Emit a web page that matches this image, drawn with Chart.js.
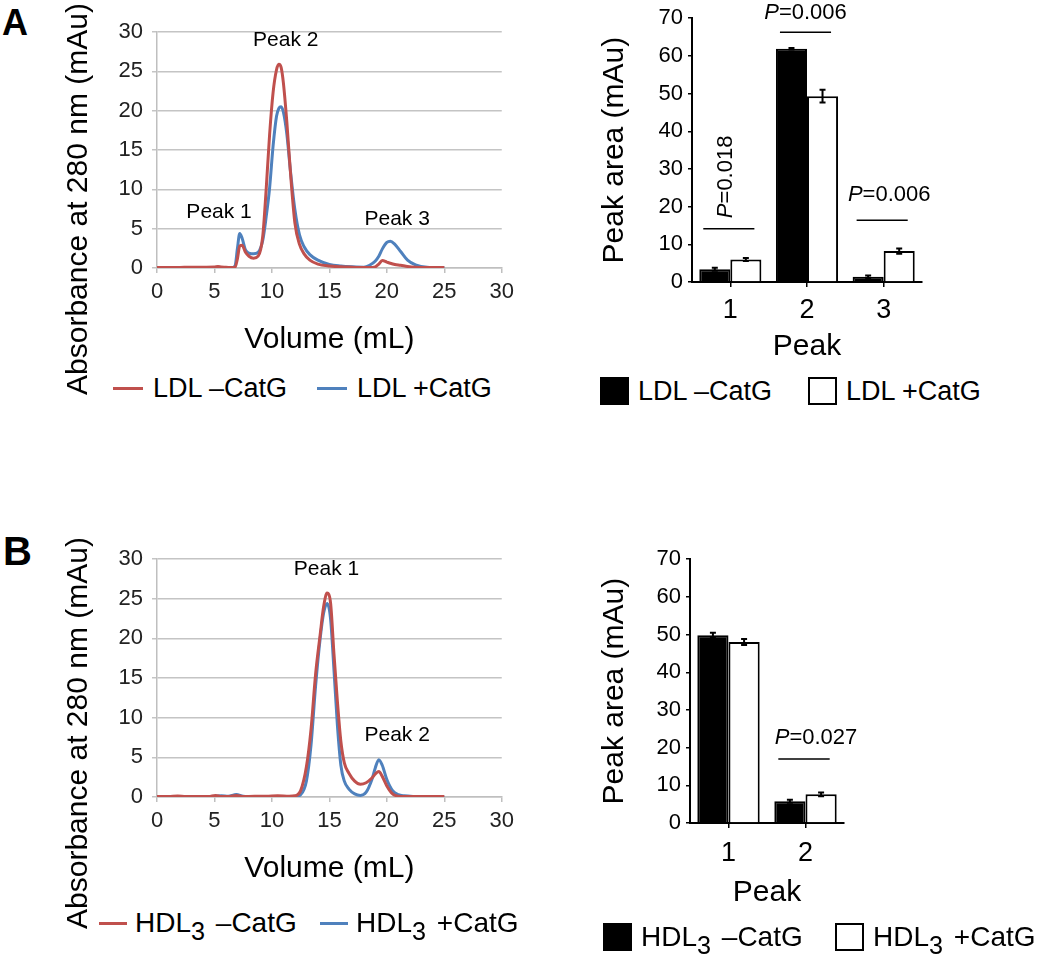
<!DOCTYPE html>
<html lang="en">
<head>
<meta charset="UTF-8">
<title>LDL and HDL3 elution profiles</title>
<script src="https://cdn.jsdelivr.net/npm/chart.js@4"></script>
<style>
  body { margin: 0; width: 1050px; height: 957px; position: relative; background: #fff; overflow: hidden;
         font-family: "Liberation Sans", Arial, sans-serif; color: #000; }
  canvas { position: absolute; }
  .letter { position: absolute; font-weight: bold; line-height: 1; }
  .ytitle { position: absolute; font-size: 30px; line-height: 1; white-space: nowrap;
            transform: translate(-50%, -50%) rotate(-90deg); }
  .legend { position: absolute; height: 30px; display: flex; align-items: center; font-size: 27px; white-space: nowrap; }
  .legend .line { width: 30px; height: 3px; margin-right: 10px; }
  .legend .box { width: 29px; height: 28px; border: 2px solid #000; box-sizing: border-box; margin-right: 9px; }
  .legend .txt { line-height: 30px; }
  .legend.hdl { font-size: 28px; }
  sub { font-size: 0.9em; vertical-align: -0.3em; line-height: 0; margin-right: 3px; }
</style>
</head>
<body>

<div class="letter" style="left:2px; top:5px; font-size:36px;">A</div>
<div class="letter" style="left:3px; top:531px; font-size:40px;">B</div>

<canvas id="lineA" width="520" height="358" style="left:0; top:0;"></canvas>
<canvas id="barA" width="480" height="365" style="left:560px; top:0;"></canvas>
<canvas id="lineB" width="520" height="358" style="left:0; top:529px;"></canvas>
<canvas id="barB" width="480" height="370" style="left:560px; top:541px;"></canvas>

<div class="ytitle" style="left:77px; top:199px;">Absorbance at 280 nm (mAu)</div>
<div class="ytitle" style="left:77px; top:733px;">Absorbance at 280 nm (mAu)</div>

<!-- legends -->
<div class="legend" style="left:113px; top:373px;"><span class="line" style="background:#c0504d"></span><span class="txt">LDL –CatG</span></div>
<div class="legend" style="left:317px; top:373px;"><span class="line" style="background:#4f81bd"></span><span class="txt">LDL +CatG</span></div>
<div class="legend" style="left:600px; top:376px;"><span class="box" style="background:#000"></span><span class="txt">LDL –CatG</span></div>
<div class="legend" style="left:808px; top:376px;"><span class="box" style="background:#fff"></span><span class="txt">LDL +CatG</span></div>

<div class="legend hdl" style="left:99px; top:908px;"><span class="line" style="background:#c0504d; width:28px; margin-right:8px"></span><span class="txt">HDL<sub>3</sub> –CatG</span></div>
<div class="legend hdl" style="left:320px; top:908px;"><span class="line" style="background:#4f81bd; width:28px; margin-right:8px"></span><span class="txt">HDL<sub>3</sub> +CatG</span></div>
<div class="legend hdl" style="left:603px; top:922px;"><span class="box" style="background:#000"></span><span class="txt">HDL<sub>3</sub> –CatG</span></div>
<div class="legend hdl" style="left:835px; top:922px;"><span class="box" style="background:#fff"></span><span class="txt">HDL<sub>3</sub> +CatG</span></div>

<script>
// ---- chromatograms (volume in mL, absorbance in mAu) ----
const ldlVolume = [0, 1, 2, 3, 4, 5, 5.3, 5.6, 6, 6.5, 6.8, 7.0, 7.2, 7.4, 7.7, 8.0, 8.4, 8.8, 9.2, 9.5, 9.8,
                   10.1, 10.4, 10.6, 10.8, 11.0, 11.3, 11.6, 12.0, 12.4, 12.8, 13.3, 14, 15, 16, 17, 18, 18.5,
                   19, 19.3, 19.6, 20.0, 20.3, 20.7, 21.2, 21.8, 22.5, 23.5, 25];
const ldlMinusCatG = [0.05, 0.05, 0.07, 0.1, 0.1, 0.12, 0.2, 0.12, 0.1, 0.05, 0.1, 1.2, 2.8, 2.9, 2.0, 1.5, 1.25, 1.5, 4.0, 10, 17,
                      22.3, 25.2, 25.9, 25.5, 23.5, 18.5, 12.4, 5.7, 3.0, 1.8, 1.0, 0.5, 0.25, 0.15, 0.1, 0.05, 0.05,
                      0.15, 0.5, 0.95, 0.75, 0.6, 0.45, 0.35, 0.2, 0.1, 0.05, 0.05];
const ldlPlusCatG = [0, 0, 0, 0.02, 0.03, 0.05, 0.05, 0.05, 0.03, 0.02, 0.3, 2.5, 4.4, 3.8, 2.3, 1.9, 1.8, 2.0, 3.5, 6.5, 10.2,
                     15.5, 19.3, 20.3, 20.5, 19.8, 17.0, 12.5, 7.4, 4.2, 2.7, 1.7, 1.0, 0.45, 0.25, 0.15, 0.1, 0.35,
                     0.9, 1.5, 2.4, 3.25, 3.4, 3.0, 2.1, 1.0, 0.4, 0.1, 0.05];

const hdlVolume = [0, 1, 1.8, 2.5, 3.5, 4.5, 5.1, 5.6, 6.2, 6.9, 7.5, 8.5, 9.5, 10.5, 11.5, 12.0, 12.5, 13.0, 13.4, 13.8,
                   14.2, 14.5, 14.8, 15.1, 15.4, 15.7, 16.0, 16.3, 16.7, 17.2, 17.7, 18.2, 18.7, 19.0, 19.3, 19.6,
                   20.0, 20.5, 21.0, 21.5, 22.5, 23.5, 25];
const hdlMinusCatG = [0.05, 0.05, 0.12, 0.05, 0.05, 0.05, 0.2, 0.05, 0.05, 0.2, 0.05, 0.1, 0.1, 0.15, 0.1, 0.15, 0.8, 3.8, 8.5, 15.5,
                      20.5, 24.0, 25.7, 24.5, 18.0, 12.0, 7.0, 4.3, 3.0, 2.0, 1.6, 1.8, 2.4, 2.9, 3.2, 2.6,
                      1.4, 0.4, 0.1, 0.05, 0.05, 0.05, 0.05];
const hdlPlusCatG = [0, 0, 0.05, 0, 0, 0.05, 0.1, 0.15, 0.1, 0.3, 0.1, 0.05, 0.05, 0.05, 0.05, 0.05, 0.3, 2.0, 6.5, 14.0,
                     20.0, 23.2, 24.4, 22.5, 16.0, 9.0, 4.0, 2.0, 1.0, 0.4, 0.2, 0.6, 2.2, 3.7, 4.7, 4.0,
                     2.2, 0.8, 0.3, 0.15, 0.05, 0, 0];

// ---- peak areas (mAu), mean and error ----
const ldlPeaks = ['1', '2', '3'];
const ldlAreaMinus = [3.4, 61.9, 1.4];
const ldlErrMinus = [0.4, 0.2, 0.35];
const ldlAreaPlus = [6.0, 49.3, 8.2];
const ldlErrPlus = [0.4, 1.7, 0.7];

const hdlPeaks = ['1', '2'];
const hdlAreaMinus = [49.8, 5.8];
const hdlErrMinus = [0.7, 0.4];
const hdlAreaPlus = [48.0, 7.6];
const hdlErrPlus = [0.8, 0.5];

const RED = '#c0504d';
const BLUE = '#4f81bd';
const FONT = '"Liberation Sans", Arial, sans-serif';

function toPoints(xs, ys) {
    return xs.map((x, i) => ({ x: x, y: ys[i] }));
}

// text labels placed in data coordinates
const peakNotes = {
    id: 'peakNotes',
    afterDatasetsDraw(chart, args, opts) {
        const { ctx, scales: { x, y } } = chart;
        ctx.save();
        ctx.font = '21px ' + FONT;
        ctx.fillStyle = '#000';
        ctx.textAlign = 'center';
        ctx.textBaseline = 'middle';
        opts.notes.forEach(n => ctx.fillText(n.text, x.getPixelForValue(n.x), y.getPixelForValue(n.y)));
        ctx.restore();
    }
};

const errorBars = {
    id: 'errorBars',
    afterDatasetsDraw(chart) {
        const { ctx, scales: { y } } = chart;
        ctx.save();
        ctx.strokeStyle = '#000';
        ctx.lineWidth = 2;
        chart.data.datasets.forEach((ds, i) => {
            chart.getDatasetMeta(i).data.forEach((bar, j) => {
                const top = y.getPixelForValue(ds.data[j] + ds.errors[j]);
                const bot = y.getPixelForValue(ds.data[j] - ds.errors[j]);
                ctx.beginPath();
                ctx.moveTo(bar.x, top); ctx.lineTo(bar.x, bot);
                ctx.moveTo(bar.x - 3, top); ctx.lineTo(bar.x + 3, top);
                ctx.moveTo(bar.x - 3, bot); ctx.lineTo(bar.x + 3, bot);
                ctx.stroke();
            });
        });
        ctx.restore();
    }
};

// significance line + italic P label
const pValues = {
    id: 'pValues',
    afterDatasetsDraw(chart, args, opts) {
        const { ctx, scales: { y } } = chart;
        const m0 = chart.getDatasetMeta(0).data, m1 = chart.getDatasetMeta(1).data;
        ctx.save();
        opts.items.forEach(p => {
            const a = m0[p.index], b = m1[p.index];
            const x0 = a.x - a.width / 2 + 4, x1 = b.x + b.width / 2 - 7;
            const ly = y.getPixelForValue(p.line);
            ctx.strokeStyle = '#000';
            ctx.lineWidth = 1.5;
            ctx.beginPath(); ctx.moveTo(x0, ly); ctx.lineTo(x1, ly); ctx.stroke();

            const cx = (x0 + x1) / 2 + p.dx, cy = y.getPixelForValue(p.label);
            ctx.translate(cx, cy);
            if (p.vertical) ctx.rotate(-Math.PI / 2);
            ctx.textBaseline = 'middle';
            ctx.textAlign = 'left';
            ctx.fillStyle = '#000';
            ctx.font = 'italic 22px ' + FONT;
            const wP = ctx.measureText('P').width;
            ctx.font = '22px ' + FONT;
            const rest = '=' + p.text;
            const wR = ctx.measureText(rest).width;
            const start = -(wP + wR) / 2;
            ctx.fillText(rest, start + wP, 0);
            ctx.font = 'italic 22px ' + FONT;
            ctx.fillText('P', start, 0);
            ctx.setTransform(1, 0, 0, 1, 0, 0);
        });
        ctx.restore();
    }
};

function makeLineChart(id, vols, minus, plus, notes, padTop) {
    return new Chart(document.getElementById(id), {
        type: 'line',
        data: {
            datasets: [
                { label: '-CatG', data: toPoints(vols, minus), borderColor: RED, borderWidth: 3,
                  pointRadius: 0, cubicInterpolationMode: 'monotone' },
                { label: '+CatG', data: toPoints(vols, plus), borderColor: BLUE, borderWidth: 3,
                  pointRadius: 0, cubicInterpolationMode: 'monotone' }
            ]
        },
        options: {
            responsive: false,
            animation: false,
            layout: { padding: { top: padTop, right: 15, left: 0, bottom: 0 } },
            plugins: { legend: { display: false }, tooltip: { enabled: false }, peakNotes: { notes: notes } },
            scales: {
                x: {
                    type: 'linear', min: 0, max: 30,
                    ticks: { stepSize: 5, font: { size: 22, family: FONT }, color: '#222', padding: 6 },
                    grid: { drawOnChartArea: false, color: '#bfbfbf', tickLength: 5, lineWidth: 1.5 },
                    border: { color: '#bfbfbf', width: 1.5 },
                    title: { display: true, text: 'Volume (mL)', font: { size: 30, family: FONT }, color: '#000', padding: 0 },
                    afterFit: s => { s.height = 90; }
                },
                y: {
                    min: 0, max: 30,
                    ticks: { stepSize: 5, font: { size: 22, family: FONT }, color: '#222', padding: 9 },
                    grid: { color: '#c4c4c4', tickLength: 5, lineWidth: 1.5 },
                    border: { color: '#bfbfbf', width: 1.5 },
                    afterFit: s => { s.width = 157; }
                }
            }
        },
        plugins: [peakNotes]
    });
}

function makeBarChart(id, peaks, minus, errMinus, plus, errPlus, pItems, o) {
    return new Chart(document.getElementById(id), {
        type: 'bar',
        data: {
            labels: peaks,
            datasets: [
                { label: '-CatG', data: minus, errors: errMinus, backgroundColor: '#000', borderColor: '#000', borderWidth: 2 },
                { label: '+CatG', data: plus, errors: errPlus, backgroundColor: '#fff', borderColor: '#000', borderWidth: 2 }
            ]
        },
        options: {
            responsive: false,
            animation: false,
            categoryPercentage: 0.81,
            barPercentage: 1.0,
            layout: { padding: { top: 14, right: o.padRight, left: 0, bottom: 0 } },
            plugins: { legend: { display: false }, tooltip: { enabled: false }, pValues: { items: pItems } },
            scales: {
                x: {
                    ticks: { font: { size: 27, family: FONT }, color: '#000', padding: o.catPad },
                    grid: { drawOnChartArea: false, offset: false, color: '#000', tickLength: 5, lineWidth: 1.5 },
                    border: { color: '#000', width: 2 },
                    title: { display: true, text: 'Peak', font: { size: 30, family: FONT }, color: '#000', padding: 0 },
                    afterFit: s => { s.height = o.xHeight; }
                },
                y: {
                    min: 0, max: 70,
                    ticks: { stepSize: 10, font: { size: 22, family: FONT }, color: '#000', padding: 5 },
                    grid: { drawOnChartArea: false, color: '#000', tickLength: 4, lineWidth: 1.5 },
                    border: { color: '#000', width: 2 },
                    title: { display: true, text: 'Peak area (mAu)', font: { size: 30, family: FONT }, color: '#000',
                             padding: { top: 37, bottom: 0 } },
                    afterFit: s => { s.width = o.yWidth; }
                }
            }
        },
        plugins: [errorBars, pValues]
    });
}

makeLineChart('lineA', ldlVolume, ldlMinusCatG, ldlPlusCatG, [
    { text: 'Peak 1', x: 5.4, y: 7.1 },
    { text: 'Peak 2', x: 11.2, y: 29 },
    { text: 'Peak 3', x: 20.9, y: 6.2 }
], 32);

makeLineChart('lineB', hdlVolume, hdlMinusCatG, hdlPlusCatG, [
    { text: 'Peak 1', x: 14.75, y: 28.75 },
    { text: 'Peak 2', x: 20.9, y: 7.8 }
], 30);

makeBarChart('barA', ldlPeaks, ldlAreaMinus, ldlErrMinus, ldlAreaPlus, ldlErrPlus, [
    { index: 0, line: 14.1, label: 27.9, text: '0.018', vertical: true, dx: -3 },
    { index: 1, line: 66.3, label: 71.3, text: '0.006', vertical: false, dx: 0 },
    { index: 2, line: 16.4, label: 23.2, text: '0.006', vertical: false, dx: 7 }
], { padRight: 118, yWidth: 132, xHeight: 83, catPad: 7 });

makeBarChart('barB', hdlPeaks, hdlAreaMinus, hdlErrMinus, hdlAreaPlus, hdlErrPlus, [
    { index: 1, line: 17.0, label: 22.5, text: '0.027', vertical: false, dx: 12 }
], { padRight: 196, yWidth: 130, xHeight: 88, catPad: 9 });
</script>
</body>
</html>
